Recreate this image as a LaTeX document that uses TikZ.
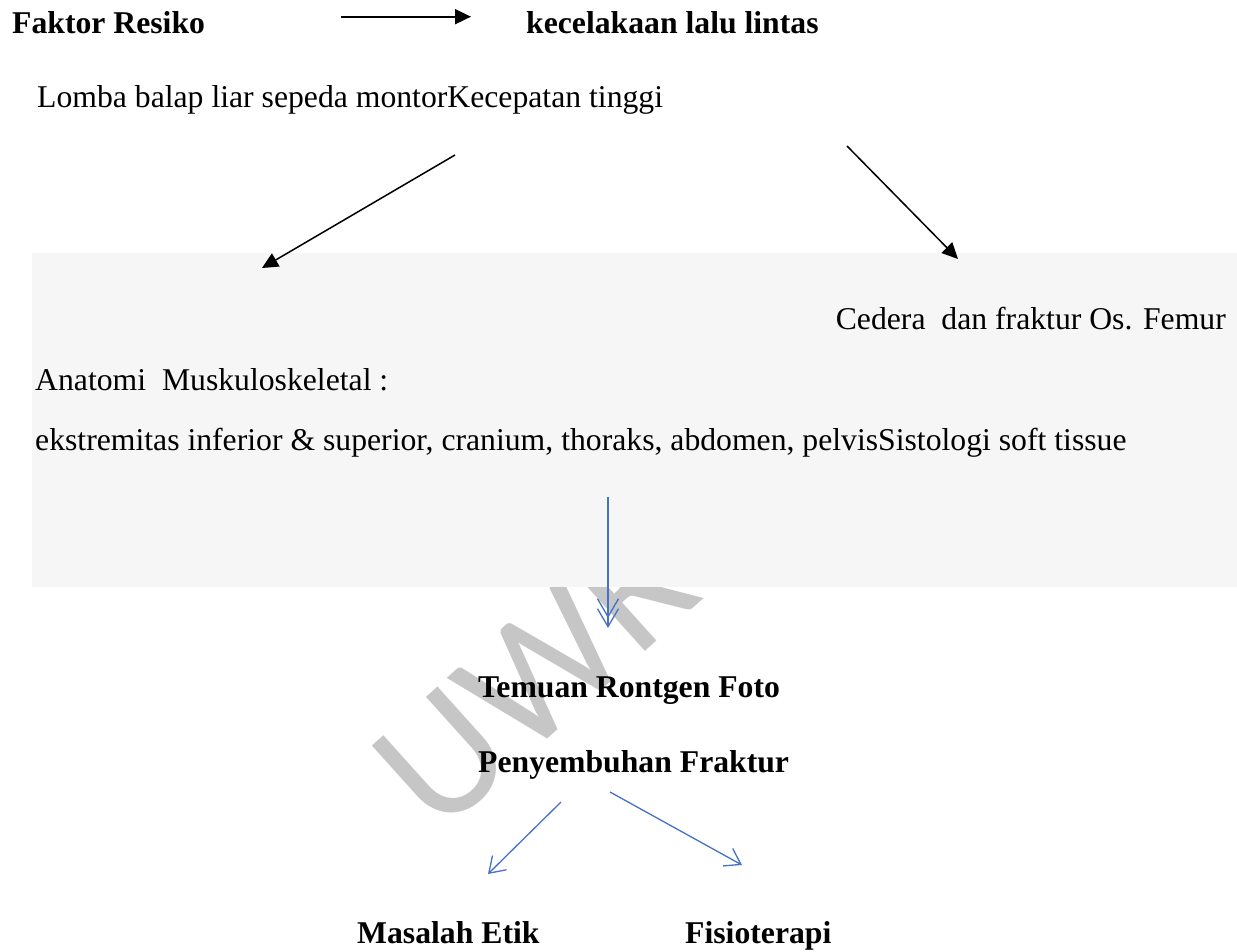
\documentclass[tikz,border=0pt]{standalone}
\usepackage{fontspec}
\setmainfont{Liberation Serif}
\newfontfamily\wmfont{Carlito}
\usetikzlibrary{arrows.meta}
\definecolor{panelgray}{HTML}{F6F6F6}
\definecolor{flowblue}{HTML}{4472C4}
\definecolor{wmgray}{HTML}{C6C6C6}
\tikzset{
  lbl/.style={inner sep=0pt, anchor=base west, font=\fontsize{31.7}{38}\selectfont},
  hdr/.style={inner sep=0pt, anchor=base west, font=\fontsize{31.7}{38}\selectfont\bfseries},
  blackarrow/.style={draw=black, line width=1.8pt, -{Triangle[length=16pt,width=15pt]}},
  bluearrow/.style={draw=flowblue, line width=1.3pt, -{Straight Barb[length=15pt,width=20pt]}},
  watermark/.style={rotate=42, anchor=base west, inner sep=0pt, text=wmgray,
    font=\wmfont\fontsize{175}{175}\selectfont},
}
\begin{document}
\begin{tikzpicture}[x=1pt,y=-1pt]
\useasboundingbox (0,0) rectangle (1237,952);

% faint watermark behind everything
\node[watermark] (wm) at (438,838) {UWKS};

% shaded panel
\fill[panelgray] (32,253) rectangle (1237,587);

% texts
\node[hdr] (faktor) at (12,34) {Faktor Resiko};
\node[hdr] (kecel) at (526,34) {kecelakaan lalu lintas};
\node[lbl] (lomba) at (37,108) {Lomba balap liar sepeda montorKecepatan tinggi};
\node[lbl, anchor=base east] (cedera) at (1226,329) {Cedera\ \ dan fraktur Os. Femur};
\node[lbl] (anatomi) at (35,390) {Anatomi\ \ Muskuloskeletal :};
\node[lbl] (ekstrem) at (35,450) {ekstremitas inferior \& superior, cranium, thoraks, abdomen, pelvisSistologi soft tissue};
\node[hdr] (temuan) at (478,697) {Temuan Rontgen Foto};
\node[hdr] (penyem) at (478,772) {Penyembuhan Fraktur};
\node[hdr] (masalah) at (357,943) {Masalah Etik};
\node[hdr] (fisio) at (685,943) {Fisioterapi};

% connector end points
\coordinate (topA) at (341,16.7);
\coordinate (topB) at (471,16.7);
\coordinate (leftA) at (455,155);
\coordinate (leftB) at (262,268);
\coordinate (rightA) at (847,146);
\coordinate (rightB) at (958,259);
\coordinate (downA) at (608,497);
\coordinate (downB) at (608,628);
\coordinate (etikA) at (561,802);
\coordinate (etikB) at (488,874);
\coordinate (fisioA) at (610,792);
\coordinate (fisioB) at (742,865);

% black arrows
\draw[blackarrow] (topA) -- (topB);
\draw[blackarrow, line width=1.5pt] (leftA) -- (leftB);
\draw[blackarrow, line width=1.5pt] (rightA) -- (rightB);

% blue arrows
\draw[draw=flowblue, line width=1.3pt,
  -{Straight Barb[length=18pt,width=21pt,sep=-10pt]Straight Barb[length=18pt,width=21pt]}]
  (downA) -- (downB);
\draw[bluearrow] (etikA) -- (etikB);
\draw[bluearrow] (fisioA) -- (fisioB);
\end{tikzpicture}
\end{document}
